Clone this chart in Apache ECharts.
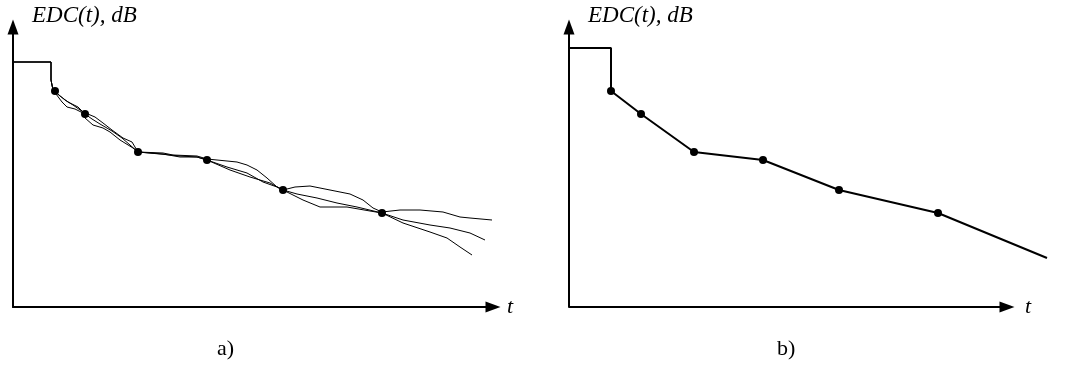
<!DOCTYPE html>
<html>
<head>
<meta charset="utf-8">
<script src="https://cdn.jsdelivr.net/npm/echarts@6/dist/echarts.min.js"></script>
<style>html,body{margin:0;padding:0;background:#fff}#c{width:1071px;height:367px}</style>
</head>
<body>
<div id="c"></div>
<script>
// time in ms, level in dB
var curveA = [[0,-8.75],[19,-8.75],[19,-13.25],[20,-13.75],[20,-15.75],[21,-16],[26,-18.25],[30,-19.5],[35,-21.25],[36,-21.75],[41,-22.5],[45,-24],[49.5,-25.75],[55,-27.75],[59.5,-28.75],[62.5,-31.25],[75,-31.5],[80,-32],[92,-32.25],[97,-33],[112,-33.75],[117,-34.5],[122,-35.75],[127,-37.75],[132,-40],[135,-40.75],[141,-40],[148.5,-39.75],[158.5,-40.75],[168.5,-41.75],[175,-43.25],[180,-45.25],[184.5,-46.25],[193.5,-45.75],[203.5,-45.75],[215,-46.25],[223.5,-47.5],[228.5,-47.75],[239.5,-48.25]];
var curveB = [[0,-8.75],[19,-8.75],[19,-13.25],[20,-13.75],[20,-15.75],[21,-16],[23.5,-17.25],[27.5,-18.75],[32.5,-20],[36,-21.75],[39.5,-23],[43.5,-24.25],[49.5,-26],[54.5,-27.75],[58.5,-29.5],[62.5,-31.25],[73.5,-31.75],[83.5,-32.25],[92,-32.5],[97,-33.25],[107,-35],[117,-36.5],[125,-38.75],[132,-40],[135,-40.75],[142,-41.75],[152,-42.75],[162,-44],[172,-45],[184.5,-46.5],[195,-48.25],[208.5,-49.5],[218.5,-50.25],[228.5,-51.5],[236,-53.25]];
var curveC = [[0,-8.75],[19,-8.75],[19,-13.25],[20,-13.75],[20,-15.75],[21,-16],[24.5,-18.75],[27,-20],[31,-20.5],[35,-21.5],[36,-22.75],[40,-24.5],[45,-25.25],[48.5,-26.25],[53.5,-28.25],[60,-30.25],[62.5,-31.25],[75,-31.75],[83.5,-32.5],[92,-32.5],[97,-33.25],[108.5,-35.75],[118.5,-37.5],[128.5,-39],[135,-40.75],[145,-43.25],[153.5,-45],[167,-45],[178.5,-46],[184.5,-46.5],[195,-49],[208.5,-51.25],[217,-52.75],[223.5,-55],[229.5,-57]];
var knotPoints = [[21,-16],[36,-21.75],[62.5,-31.25],[97,-33.25],[135,-40.75],[184.5,-46.5]];
var approxLine = [[0,-5.25],[21,-5.25],[21,-16],[36,-21.75],[62.5,-31.25],[97,-33.25],[135,-40.75],[184.5,-46.5],[239,-57.75]];
var rightAxisEnd = 219;
var yAxisName = 'EDC(t), dB';
var xAxisName = 't';
var panelLabels = ['a)', 'b)'];

var chart = echarts.init(document.getElementById('c'), null, {renderer:'canvas'});
var axisLineStyle = {show:true, onZero:false, symbol:['none','triangle'], symbolSize:[11,15], lineStyle:{color:'#000', width:2}};
function xAx(gi, max, showLine){
  return {type:'value', gridIndex:gi, min:0, max:max, axisLine:showLine ? axisLineStyle : {show:false, onZero:false}, axisTick:{show:false}, axisLabel:{show:false}, splitLine:{show:false}};
}
function yAx(gi){
  return {type:'value', gridIndex:gi, min:-70, max:0, axisLine:axisLineStyle, axisTick:{show:false}, axisLabel:{show:false}, splitLine:{show:false}};
}
var serif = '"Liberation Serif","DejaVu Serif",serif';
function lineS(data, xi, w){
  return {type:'line', xAxisIndex:xi, yAxisIndex:xi, data:data, showSymbol:false, symbol:'none', clip:false, lineStyle:{color:'#000', width:w}, silent:true, animation:false};
}
function dots(xi){
  return {type:'scatter', xAxisIndex:xi, yAxisIndex:xi, data:knotPoints, symbolSize:8, itemStyle:{color:'#000', opacity:1}, silent:true, animation:false};
}
var rightLine = lineS(approxLine,1,2);
rightLine.markLine = {
  silent:true, animation:false, symbol:['none','triangle'], symbolSize:[11,15],
  label:{show:false}, emphasis:{disabled:true},
  lineStyle:{color:'#000', width:2, type:'solid', opacity:1},
  data:[[{coord:[0,-70]},{coord:[rightAxisEnd,-70]}]]
};
var option = {
  animation:false,
  backgroundColor:'#fff',
  grid:[{left:13, top:27, width:480, height:280},{left:569, top:27, width:480, height:280}],
  xAxis:[xAx(0,240,true), xAx(1,240,false)],
  yAxis:[yAx(0), yAx(1)],
  series:[
    lineS(curveA,0,1), lineS(curveB,0,1), lineS(curveC,0,1),
    dots(0),
    rightLine,
    dots(1)
  ],
  graphic:[
    {type:'text', left:32, top:4, style:{text:yAxisName, font:'italic 23px '+serif, fill:'#000'}},
    {type:'text', left:588, top:4, style:{text:yAxisName, font:'italic 23px '+serif, fill:'#000'}},
    {type:'text', left:507, top:296, style:{text:xAxisName, font:'italic 22px '+serif, fill:'#000'}},
    {type:'text', left:1025, top:296, style:{text:xAxisName, font:'italic 22px '+serif, fill:'#000'}},
    {type:'text', left:217, top:338, style:{text:panelLabels[0], font:'22px '+serif, fill:'#000'}},
    {type:'text', left:777, top:338, style:{text:panelLabels[1], font:'22px '+serif, fill:'#000'}}
  ]
};
chart.setOption(option);
</script>
</body>
</html>
